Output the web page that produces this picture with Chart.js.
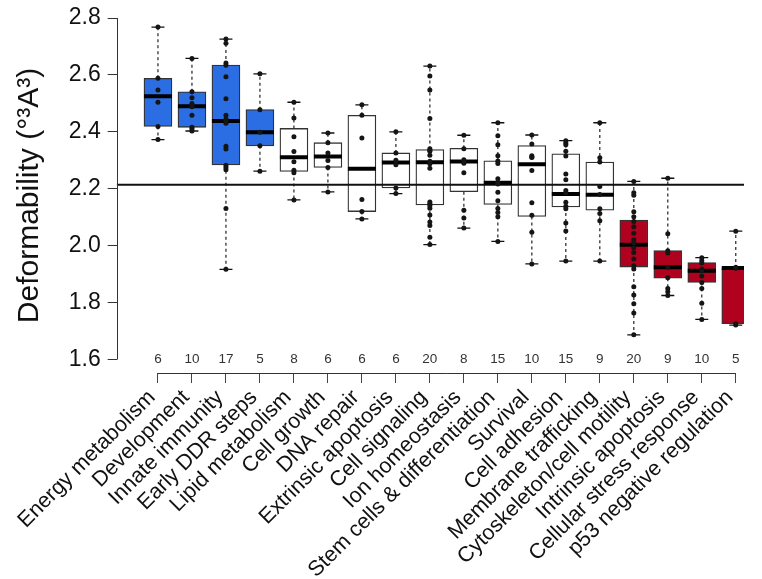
<!DOCTYPE html>
<html>
<head>
<meta charset="utf-8">
<script src="https://cdn.jsdelivr.net/npm/chart.js@4.4.0/dist/chart.umd.min.js"></script>
<style>
  html, body { margin: 0; padding: 0; background: #fff; }
  canvas { display: block; }
</style>
</head>
<body>
<canvas id="boxChart" width="762" height="579"></canvas>
<script>
const categories = [
  "Energy metabolism", "Development", "Innate immunity", "Early DDR steps",
  "Lipid metabolism", "Cell growth", "DNA repair", "Extrinsic apoptosis",
  "Cell signaling", "Ion homeostasis", "Stem cells & differentiation", "Survival",
  "Cell adhesion", "Membrane trafficking", "Cytoskeleton/cell motility",
  "Intrinsic apoptosis", "Cellular stress response", "p53 negative regulation"
];
const counts = [6, 10, 17, 5, 8, 6, 6, 6, 20, 8, 15, 10, 15, 9, 20, 9, 10, 5];
// high / mid / low group of each category
const groupClass = ["high", "high", "high", "high", "mid", "mid", "mid", "mid", "mid",
  "mid", "mid", "mid", "mid", "mid", "low", "low", "low", "low"];

const boxHigh = [2.588, 2.541, 2.635, 2.478, 2.412, 2.362, 2.458, 2.326, 2.338,
  2.342, 2.298, 2.352, 2.323, 2.294, 2.090, 1.983, 1.941, 1.922];
const medians = [2.525, 2.490, 2.438, 2.399, 2.311, 2.313, 2.270, 2.292, 2.293,
  2.296, 2.221, 2.286, 2.182, 2.179, 2.003, 1.924, 1.912, 1.922];
const boxLow = [2.419, 2.416, 2.284, 2.351, 2.261, 2.275, 2.120, 2.203, 2.143,
  2.190, 2.145, 2.103, 2.136, 2.125, 1.925, 1.886, 1.871, 1.726];
const whiskerHigh = [2.768, 2.658, 2.726, 2.604, 2.504, 2.396, 2.495, 2.400, 2.631,
  2.388, 2.432, 2.389, 2.369, 2.432, 2.226, 2.237, 1.958, 2.051];
const whiskerLow = [2.373, 2.403, 1.917, 2.262, 2.161, 2.189, 2.094, 2.183, 2.004,
  2.062, 2.015, 1.936, 1.946, 1.946, 1.687, 1.825, 1.741, 1.721];

const groupPoints = [
  [2.768, 2.588, 2.547, 2.504, 2.419, 2.373],
  [2.658, 2.541, 2.52, 2.50, 2.492, 2.488, 2.458, 2.416, 2.410, 2.403],
  [2.726, 2.711, 2.642, 2.634, 2.594, 2.516, 2.458, 2.445, 2.438, 2.430, 2.349, 2.340, 2.283, 2.275, 2.267, 2.131, 1.917],
  [2.604, 2.478, 2.399, 2.351, 2.262],
  [2.504, 2.449, 2.383, 2.331, 2.295, 2.265, 2.256, 2.161],
  [2.396, 2.362, 2.326, 2.299, 2.275, 2.189],
  [2.495, 2.458, 2.378, 2.162, 2.120, 2.094],
  [2.400, 2.326, 2.300, 2.284, 2.203, 2.183],
  [2.631, 2.596, 2.547, 2.447, 2.341, 2.335, 2.332, 2.318, 2.297, 2.288, 2.272, 2.154, 2.147, 2.140, 2.132, 2.108, 2.083, 2.071, 2.030, 2.004],
  [2.388, 2.341, 2.302, 2.290, 2.256, 2.125, 2.097, 2.062],
  [2.432, 2.386, 2.355, 2.316, 2.298, 2.289, 2.235, 2.221, 2.217, 2.188, 2.158, 2.131, 2.117, 2.102, 2.015],
  [2.389, 2.357, 2.316, 2.312, 2.31, 2.264, 2.151, 2.107, 2.047, 1.936],
  [2.369, 2.361, 2.355, 2.332, 2.315, 2.252, 2.232, 2.194, 2.186, 2.153, 2.139, 2.130, 2.080, 2.052, 1.946],
  [2.432, 2.309, 2.294, 2.208, 2.180, 2.130, 2.113, 2.088, 1.946],
  [2.226, 2.186, 2.177, 2.119, 2.102, 2.085, 2.067, 2.044, 2.021, 2.010, 1.993, 1.976, 1.953, 1.930, 1.918, 1.856, 1.827, 1.796, 1.764, 1.687],
  [2.237, 2.042, 1.982, 1.974, 1.924, 1.887, 1.850, 1.838, 1.825],
  [1.958, 1.947, 1.939, 1.918, 1.912, 1.894, 1.871, 1.850, 1.798, 1.741],
  [2.051, 1.924, 1.921, 1.726, 1.721]
];

const yTicks = [1.6, 1.8, 2.0, 2.2, 2.4, 2.6, 2.8];
const referenceValue = 2.214;

// axis ranges (R-style padding around the data)
const xMin = -1.214, xMax = 17.242;
const yMin = 1.5528, yMax = 2.8;

const FONT = '"Liberation Sans", Arial, Helvetica, sans-serif';
const fillFor = { high: "#2b6de3", mid: "#ffffff", low: "#b0021f" };

const boxData = categories.map((c, i) => ({ x: i, y: [boxLow[i], boxHigh[i]] }));
const medianData = categories.map((c, i) => ({ x: i, y: medians[i] }));
const capData = [];
const whiskerData = [];
categories.forEach((c, i) => {
  capData.push({ x: i, y: whiskerHigh[i] }, { x: i, y: whiskerLow[i] });
  whiskerData.push({ x: i, y: boxHigh[i] }, { x: i, y: whiskerHigh[i] }, { x: i, y: null });
  whiskerData.push({ x: i, y: boxLow[i] }, { x: i, y: whiskerLow[i] }, { x: i, y: null });
});
const pointData = [];
groupPoints.forEach((vals, i) => vals.forEach(v => pointData.push({ x: i, y: v })));

// axis lines only over the tick range, plus the group sizes
const axisExtras = {
  id: "axisExtras",
  afterDraw(chart) {
    const { ctx, chartArea } = chart;
    const x = chart.scales.x, y = chart.scales.y;
    ctx.save();
    ctx.strokeStyle = "#333";
    ctx.lineWidth = 1;
    ctx.beginPath();
    const ax = Math.round(chartArea.left) + 0.5;
    ctx.moveTo(ax, y.getPixelForValue(yTicks[0]));
    ctx.lineTo(ax, y.getPixelForValue(yTicks[yTicks.length - 1]));
    const by = Math.round(chartArea.bottom) + 0.5;
    ctx.moveTo(x.getPixelForValue(0), by);
    ctx.lineTo(x.getPixelForValue(categories.length - 1), by);
    ctx.stroke();
    ctx.fillStyle = "#333";
    ctx.font = "13.5px " + FONT;
    ctx.textAlign = "center";
    ctx.textBaseline = "middle";
    counts.forEach((n, i) => {
      ctx.fillText(String(n), x.getPixelForValue(i), y.getPixelForValue(yTicks[0]));
    });
    ctx.restore();
  }
};

new Chart(document.getElementById("boxChart"), {
  type: "bar",
  data: {
    datasets: [
      {
        type: "scatter", label: "points", data: pointData, order: 0,
        pointRadius: 2.5, pointBackgroundColor: "#151515", pointBorderWidth: 0
      },
      {
        type: "scatter", label: "median", data: medianData, order: 1,
        pointStyle: "line", pointRadius: 14, pointBorderWidth: 4, pointBorderColor: "#000"
      },
      {
        type: "line", label: "reference", order: 2,
        data: [{ x: xMin, y: referenceValue }, { x: xMax, y: referenceValue }],
        borderColor: "#111", borderWidth: 2, pointRadius: 0
      },
      {
        type: "scatter", label: "caps", data: capData, order: 3,
        pointStyle: "line", pointRadius: 6.5, pointBorderWidth: 1.3, pointBorderColor: "#111"
      },
      {
        type: "bar", label: "box", data: boxData, order: 4,
        backgroundColor: categories.map((c, i) => fillFor[groupClass[i]]),
        borderColor: "#333", borderWidth: 1.3, borderSkipped: false,
        barThickness: 28
      },
      {
        type: "line", label: "whiskers", data: whiskerData, order: 5,
        borderColor: "#222", borderWidth: 1.2, borderDash: [3, 3],
        pointRadius: 0, spanGaps: false
      }
    ]
  },
  options: {
    responsive: false,
    animation: false,
    layout: { padding: { top: 10.7, right: 13, left: 0, bottom: 0 } },
    plugins: { legend: { display: false }, tooltip: { enabled: false } },
    scales: {
      x: {
        type: "linear",
        min: xMin,
        max: xMax,
        offset: false,
        border: { display: false },
        grid: { offset: false, drawOnChartArea: false, drawTicks: true, tickLength: 10, color: "#444" },
        afterBuildTicks: (scale) => { scale.ticks = categories.map((c, i) => ({ value: i })); },
        afterFit: (scale) => { scale.height = 206; scale.paddingLeft = 0; scale.paddingRight = 0; },
        ticks: {
          autoSkip: false,
          minRotation: 45,
          maxRotation: 45,
          padding: 2,
          labelOffset: -6,
          color: "#111",
          font: { family: FONT, size: 21.5 },
          callback: (v) => categories[v]
        }
      },
      y: {
        min: yMin,
        max: yMax,
        border: { display: false },
        grid: { drawOnChartArea: false, drawTicks: true, tickLength: 9, color: "#333" },
        afterBuildTicks: (scale) => { scale.ticks = yTicks.map(v => ({ value: v })); },
        afterFit: (scale) => { scale.width = 116.7; scale.paddingTop = 0; scale.paddingBottom = 0; },
        ticks: {
          padding: 7,
          color: "#111",
          font: { family: FONT, size: 23 },
          callback: (v) => v.toFixed(1)
        },
        title: {
          display: true,
          text: "Deformability (°³A³)",
          color: "#111",
          font: { family: FONT, size: 30 },
          padding: { top: 12, bottom: 0 }
        }
      }
    }
  },
  plugins: [axisExtras]
});
</script>
</body>
</html>
